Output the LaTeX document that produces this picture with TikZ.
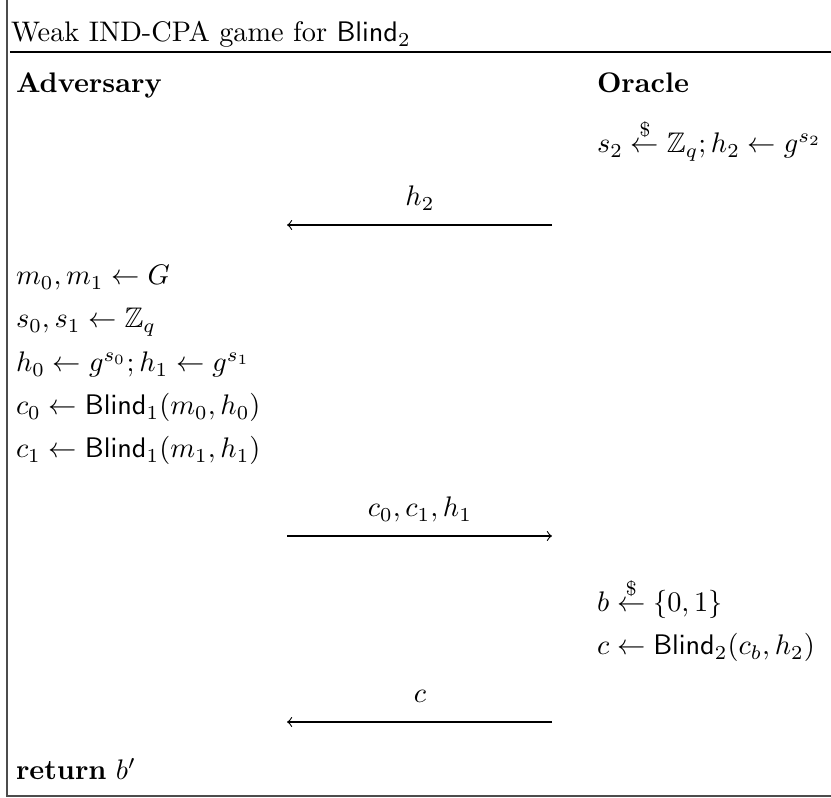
\documentclass[tikz,border=0pt]{standalone}
\usepackage{amsmath,amssymb}
\begin{document}
\begin{tikzpicture}[x=0.3533pt,y=-0.3533pt,
  txt/.style={anchor=base west,inner sep=0pt,outer sep=0pt},
  lbl/.style={anchor=base,inner sep=0pt,outer sep=0pt},
  msg/.style={->,line width=0.4pt},
  frame/.style={line width=0.45pt,black!70}]
\useasboundingbox (0,0) rectangle (831,798);
% frame
\coordinate (tl) at (7,0);
\coordinate (bl) at (7,796);
\coordinate (br) at (831,796);
\draw[frame] (tl) -- (bl) -- (br);
\coordinate (rl) at (10,52);
\coordinate (rr) at (831,52);
\draw[line width=0.6pt] (rl) -- (rr);
% title
\node[txt] (title) at (11,42) {Weak IND-CPA game for $\mathsf{Blind}_2$};
% headers
\node[txt] (adv) at (16,93) {\textbf{Adversary}};
\node[txt] (orc) at (597,93) {\textbf{Oracle}};
% oracle setup
\node[txt] (o1) at (597,153) {$s_2 \stackrel{\$}{\leftarrow} \mathbb{Z}_q; h_2 \leftarrow g^{s_2}$};
% msg 1
\coordinate (m1s) at (552,225);
\coordinate (m1e) at (287,225);
\draw[msg] (m1s) -- (m1e);
\node[lbl] (l1) at (420,206) {$h_2$};
% adversary computation
\node[txt] (a1) at (16,285) {$m_0, m_1 \leftarrow G$};
\node[txt] (a2) at (16,328) {$s_0, s_1 \leftarrow \mathbb{Z}_q$};
\node[txt] (a3) at (16,372) {$h_0 \leftarrow g^{s_0}; h_1 \leftarrow g^{s_1}$};
\node[txt] (a4) at (16,415) {$c_0 \leftarrow \mathsf{Blind}_1(m_0, h_0)$};
\node[txt] (a5) at (16,458) {$c_1 \leftarrow \mathsf{Blind}_1(m_1, h_1)$};
% msg 2
\coordinate (m2s) at (287,536);
\coordinate (m2e) at (552,536);
\draw[msg] (m2s) -- (m2e);
\node[lbl] (l2) at (420,517) {$c_0, c_1, h_1$};
% oracle
\node[txt] (o2) at (597,612) {$b \stackrel{\$}{\leftarrow} \{0,1\}$};
\node[txt] (o3) at (597,655) {$c \leftarrow \mathsf{Blind}_2(c_b, h_2)$};
% msg 3
\coordinate (m3s) at (552,722);
\coordinate (m3e) at (287,722);
\draw[msg] (m3s) -- (m3e);
\node[lbl] (l3) at (420,703) {$c$};
% return
\node[txt] (ret) at (16,780) {\textbf{return} $b'$};
\end{tikzpicture}
\end{document}
